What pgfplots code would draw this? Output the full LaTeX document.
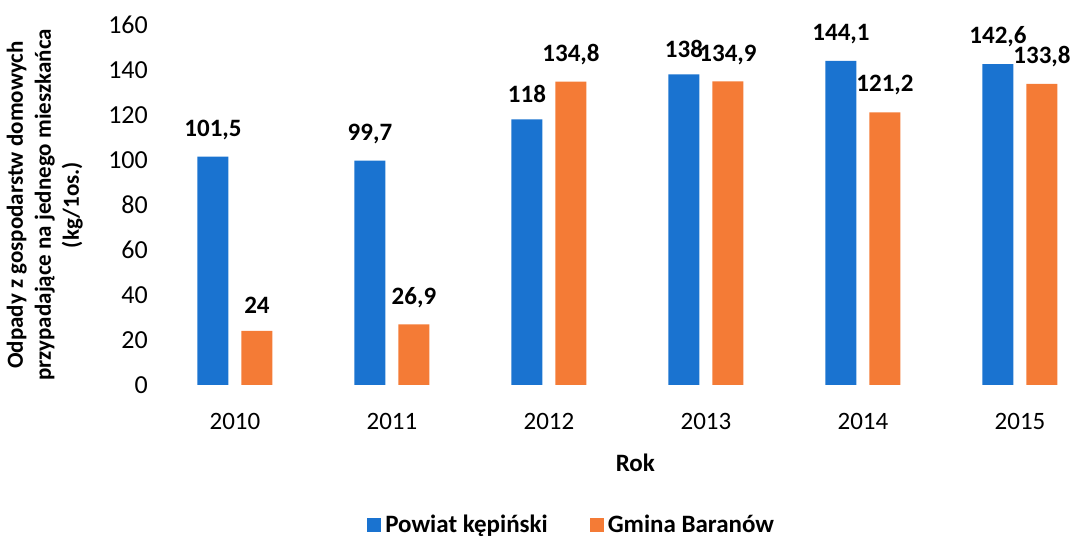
\documentclass[border=0pt]{standalone}
\usepackage{fontspec}
\setmainfont{Carlito}
\usepackage{pgfplots}
\pgfplotsset{compat=1.18}
\definecolor{powiat}{HTML}{1A73D0}
\definecolor{gmina}{HTML}{F47B36}
\begin{document}
\begin{tikzpicture}
\begin{axis}[
  scale only axis,
  width=447.5pt, height=180pt,
  ybar=6.5pt, bar width=15.5pt,
  xmin=-0.3, xmax=5.4,
  ymin=0, ymax=160,
  xtick=data,
  xticklabels={2010,2011,2012,2013,2014,2015},
  ytick={0,20,...,160},
  axis line style={draw=none},
  major tick length=0pt,
  tick label style={font=\fontsize{13}{15}\selectfont},
  /pgf/number format/assume math mode=true,
  /pgf/number format/use comma,
  yticklabel style={xshift=-16.5pt},
  xticklabel style={yshift=-10.5pt, font=\fontsize{12.5}{15}\selectfont},
  xlabel={\bfseries Rok},
  xlabel style={font=\fontsize{12.5}{15}\selectfont, yshift=-5.5pt},
  ylabel={\bfseries Odpady z gospodarstw domowych\\ \bfseries przypadające na jednego mieszkańca\\ \bfseries (kg/1os.)},
  ylabel style={font=\fontsize{11.5}{14}\selectfont, align=center, at={(axis description cs:-0.16,0.5)}, anchor=center},
  nodes near coords={\bfseries\pgfmathprintnumber{\pgfplotspointmeta}},
  every node near coord/.append style={font=\fontsize{12.5}{14}\selectfont, yshift=5pt},
  legend columns=2,
  legend style={draw=none, at={(axis description cs:0.43,-0.39)}, anchor=center,
    font=\fontsize{12.5}{14}\selectfont\bfseries, /tikz/every even column/.append style={column sep=19pt}},
  legend image code/.code={\fill[#1] (0pt,-3.5pt) rectangle (7pt,3.5pt);},
]
\addplot[fill=powiat, draw=none] coordinates {(0,101.5) (1,99.7) (2,118) (3,138) (4,144.1) (5,142.6)};
\addplot[fill=gmina, draw=none] coordinates {(0,24) (1,26.9) (2,134.8) (3,134.9) (4,121.2) (5,133.8)};
\legend{Powiat kępiński, Gmina Baranów}
\end{axis}
\path ([yshift=12.5pt]current axis.north west);
\end{tikzpicture}
\end{document}
